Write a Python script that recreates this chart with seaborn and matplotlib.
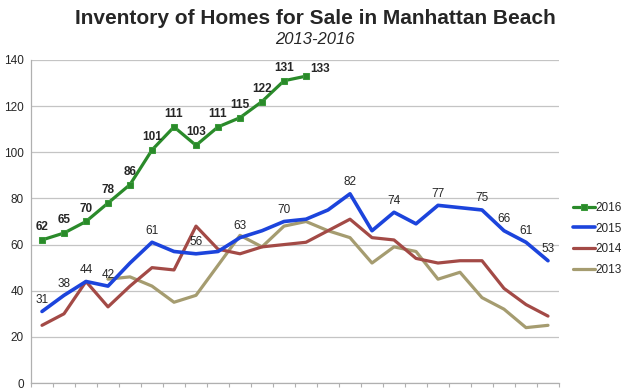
import numpy as np
import pandas as pd
import seaborn as sns
import matplotlib.pyplot as plt

# data, 24 monthly slots
months = list(range(24))
inv_2016 = [62, 65, 70, 78, 86, 101, 111, 103, 111, 115, 122, 131, 133]
inv_2015 = [31, 38, 44, 42, 52, 61, 57, 56, 57, 63, 66, 70, 71, 75, 82, 66, 74, 69, 77, 76, 75, 66, 61, 53]
inv_2014 = [25, 30, 44, 33, 42, 50, 49, 68, 58, 56, 59, 60, 61, 66, 71, 63, 62, 54, 52, 53, 53, 41, 34, 29]
inv_2013 = [np.nan] * 3 + [45, 46, 42, 35, 38, 51, 64, 59, 68, 70, 66, 63, 52, 59, 57, 45, 48, 37, 32, 24, 25]

# which 2015 points carry a value label
labels_2015 = [0, 1, 2, 3, 5, 7, 9, 11, 14, 16, 18, 20, 21, 22, 23]

colors = {"2016": "#2a8a2a", "2015": "#1c44dc", "2014": "#a34a46", "2013": "#a59c70"}

sns.set_style("white")
plt.rcParams['font.family'] = ['Liberation Sans', 'DejaVu Sans']

fig = plt.figure(figsize=(6.28, 3.90), dpi=100)
ax = fig.add_axes([31 / 628, 7 / 390, (559 - 31) / 628, (383 - 60) / 390])

series = [("2013", inv_2013), ("2014", inv_2014), ("2015", inv_2015), ("2016", inv_2016)]
for name, vals in series:
    df = pd.DataFrame({"month": months[:len(vals)], "homes": vals}).dropna()
    lw = 2.6 if name == "2015" else 2.3
    if name == "2016":
        sns.lineplot(data=df, x="month", y="homes", ax=ax, color=colors[name], lw=lw,
                     marker="s", markersize=5, markeredgecolor="#3a9a3a", label=name)
    else:
        sns.lineplot(data=df, x="month", y="homes", ax=ax, color=colors[name], lw=lw, label=name)

# value labels
for i, v in enumerate(inv_2016):
    last = i == len(inv_2016) - 1
    ax.annotate(str(v), (months[i], v), textcoords="offset points",
                xytext=(3, 1) if last else (0, 5), ha="left" if last else "center",
                va="bottom", fontsize=8.5, fontweight="bold")
for i in labels_2015:
    ax.annotate(str(inv_2015[i]), (months[i], inv_2015[i]), textcoords="offset points",
                xytext=(0, 4), ha="center", va="bottom", fontsize=8.5)

ax.set_xlim(-0.5, 23.5)
ax.set_ylim(0, 140)
ax.set_yticks(range(0, 141, 20))
ax.set_xticks(np.arange(-0.5, 24, 1))
ax.set_xticklabels([])
ax.set_xlabel("")
ax.set_ylabel("")
ax.grid(axis="y", color="#c4c4c4", lw=0.9)
ax.set_axisbelow(True)
ax.tick_params(axis="y", length=0, labelsize=8.5, pad=5)
ax.tick_params(axis="x", length=3, color="#b0b0b0", direction="out", bottom=True)
for s in ["top", "right"]:
    ax.spines[s].set_visible(False)
for s in ["left", "bottom"]:
    ax.spines[s].set_color("#b0b0b0")
    ax.spines[s].set_linewidth(0.9)

handles, labs = ax.get_legend_handles_labels()
ax.legend(handles[::-1], labs[::-1], loc="center left", bbox_to_anchor=(1.014, 0.446),
          frameon=False, fontsize=8.5, handlelength=1.8, handletextpad=0.05,
          labelspacing=0.75, borderaxespad=0.2)

fig.text(0.502, 1 - 18 / 390, "Inventory of Homes for Sale in Manhattan Beach",
         ha="center", va="center", fontsize=15, fontweight="bold")
fig.text(0.502, 1 - 40 / 390, "2013-2016", ha="center", va="center",
         fontsize=12, style="italic")

fig.savefig("out.png", dpi=100)
